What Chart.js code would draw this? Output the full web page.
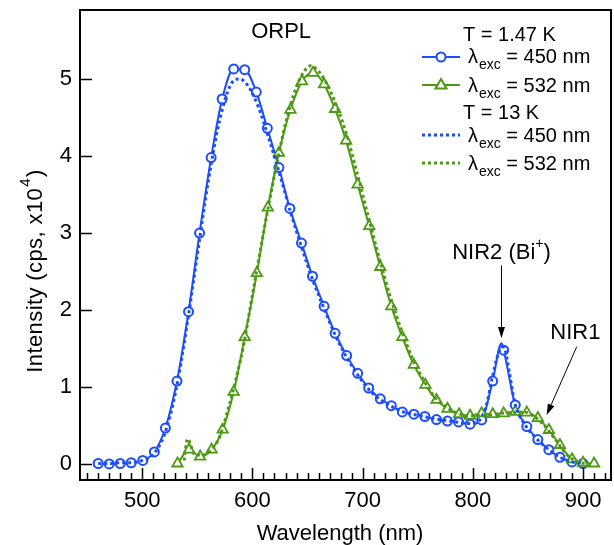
<!DOCTYPE html>
<html lang="en">
<head>
  <meta charset="UTF-8">
  <title>ORPL spectra</title>
  <script src="https://cdn.jsdelivr.net/npm/chart.js"></script>
  <style>
    html, body { margin: 0; padding: 0; background: #fff; }
    .chart-box { width: 614px; height: 545px; }
    canvas { display: block; }
  </style>
</head>
<body>
  <div class="chart-box">
    <canvas id="spectra" width="614" height="545" style="width:614px;height:545px"></canvas>
  </div>

  <script>
    // T = 1.47 K, excitation 450 nm (points carrying a circle marker)
    const blueX = [460, 470, 480, 490, 500.5, 511, 521, 531.5, 542, 552, 562.5, 572.5, 583, 593, 603.5,
                   613.5, 624, 634, 644.5, 654.5, 665, 675, 685.5, 695.5, 705.5, 716, 726, 736, 746.5, 756.5,
                   767, 777, 787, 797.5, 808, 818, 828, 838.5, 849, 859, 869, 879, 890, 900];
    const blueY = [0.01, 0.005, 0.01, 0.02, 0.05, 0.16, 0.47, 1.08, 1.98, 3.0, 3.98, 4.74, 5.13, 5.12, 4.83,
                   4.36, 3.85, 3.32, 2.87, 2.44, 2.05, 1.70, 1.41, 1.18, 0.99, 0.85, 0.76, 0.68, 0.65, 0.62,
                   0.58, 0.56, 0.55, 0.52, 0.575, 1.08, 1.48, 0.77, 0.49, 0.32, 0.19, 0.09, 0.03, 0.01];
    // extra line point without marker (top of the NIR2 peak)
    const blueExtraX = [826];
    const blueExtraY = [1.57];

    // T = 1.47 K, excitation 532 nm (triangle markers)
    const greenX = [532, 542.5, 552.5, 563, 573, 583, 593, 604, 614, 624, 634.5, 645, 655, 665, 675,
                    685, 695.5, 706, 716, 726, 736, 746.5, 757, 767, 777, 787.5, 797.5, 808, 818, 828,
                    838.5, 849, 859, 869, 879, 890, 900, 910];
    const greenY = [0.01, 0.19, 0.10, 0.19, 0.45, 0.94, 1.65, 2.48, 3.33, 4.04, 4.60, 4.97, 5.08, 4.93, 4.61,
                    4.20, 3.63, 3.09, 2.56, 2.05, 1.65, 1.29, 1.03, 0.835, 0.72, 0.65, 0.63, 0.66, 0.65, 0.66,
                    0.68, 0.67, 0.60, 0.445, 0.25, 0.065, 0.02, 0.01];

    // T = 13 K, excitation 450 nm (dotted)
    const blue13X = [460, 470, 480, 490, 500, 510, 520, 530, 540, 550, 560, 570, 580, 588, 595,
                     605, 615, 625, 635, 645, 655, 665, 675, 685, 695, 705, 715, 725, 735, 745,
                     755, 765, 775, 785, 795, 805, 812, 818, 825, 828, 833, 838, 848, 858, 868,
                     878, 888, 900];
    const blue13Y = [0.01, 0.01, 0.02, 0.02, 0.05, 0.13, 0.38, 0.92, 1.75, 2.72, 3.68, 4.45, 4.92, 5.0, 4.93,
                     4.65, 4.22, 3.75, 3.25, 2.80, 2.38, 2.02, 1.68, 1.40, 1.17, 0.98, 0.85, 0.76, 0.69, 0.65,
                     0.62, 0.59, 0.57, 0.55, 0.53, 0.56, 0.75, 1.15, 1.50, 1.52, 1.20, 0.80, 0.50, 0.33, 0.20,
                     0.10, 0.04, 0.01];

    // T = 13 K, excitation 532 nm (dotted)
    const green13X = [538, 541, 548, 555, 562, 570, 578, 585, 592, 600, 610, 620, 630, 640, 648,
                      653, 660, 667, 675, 685, 695, 705, 715, 725, 735, 745, 755, 765, 775, 785,
                      795, 805, 815, 825, 835, 845, 855, 865, 875, 885, 895, 905];
    const green13Y = [0.05, 0.33, 0.12, 0.12, 0.18, 0.35, 0.72, 1.10, 1.55, 2.20, 3.00, 3.75, 4.42, 4.90, 5.12,
                      5.17, 5.10, 4.95, 4.70, 4.30, 3.78, 3.22, 2.68, 2.18, 1.75, 1.38, 1.10, 0.88, 0.75, 0.67,
                      0.63, 0.63, 0.64, 0.66, 0.67, 0.68, 0.63, 0.50, 0.32, 0.13, 0.03, 0.01];

    const xTicks = [500, 600, 700, 800, 900];
    const yTicks = [0, 1, 2, 3, 4, 5];

    const FONT = '"Liberation Sans", Arial, Helvetica, sans-serif';
    const BLUE = '#1b4cff';
    const GREEN = '#4c9a12';

    const toPoints = (xs, ys, marker) => xs.map((v, i) => ({ x: v, y: ys[i], m: marker }));
    const blueLine = toPoints(blueX, blueY, true)
      .concat(toPoints(blueExtraX, blueExtraY, false))
      .sort((a, b) => a.x - b.x);

    // legend text with λ and a subscript "exc"
    function lambdaLabel(ctx, x, y, rest) {
      ctx.font = '20px ' + FONT;
      ctx.fillText('λ', x, y);
      x += ctx.measureText('λ').width + 1;
      ctx.font = '14px ' + FONT;
      ctx.fillText('exc', x, y + 6);
      x += ctx.measureText('exc').width;
      ctx.font = '20px ' + FONT;
      ctx.fillText(' = ' + rest, x, y);
    }

    function arrow(ctx, x1, y1, x2, y2) {
      const ang = Math.atan2(y2 - y1, x2 - x1);
      const L = 11, W = 3.5;
      ctx.beginPath();
      ctx.moveTo(x1, y1);
      ctx.lineTo(x2 - L * Math.cos(ang), y2 - L * Math.sin(ang));
      ctx.stroke();
      ctx.beginPath();
      ctx.moveTo(x2, y2);
      ctx.lineTo(x2 - L * Math.cos(ang) + W * Math.sin(ang), y2 - L * Math.sin(ang) - W * Math.cos(ang));
      ctx.lineTo(x2 - L * Math.cos(ang) - W * Math.sin(ang), y2 - L * Math.sin(ang) + W * Math.cos(ang));
      ctx.closePath();
      ctx.fill();
    }

    const decorations = {
      id: 'decorations',
      afterDatasetsDraw(chart) {
        const { ctx, chartArea: a, scales: { x, y } } = chart;
        ctx.save();
        ctx.setLineDash([]);
        ctx.strokeStyle = '#000';
        ctx.lineWidth = 1.5;
        ctx.beginPath();
        for (let v = 450; v <= 920; v += 10) {
          const px = Math.round(x.getPixelForValue(v)) + 0.5;
          const len = xTicks.includes(v) ? 12 : 7;
          ctx.moveTo(px, a.bottom);
          ctx.lineTo(px, a.bottom - len);
        }
        yTicks.forEach(v => {
          const py = Math.round(y.getPixelForValue(v)) + 0.5;
          ctx.moveTo(a.left, py);
          ctx.lineTo(a.left + 12, py);
        });
        ctx.stroke();

        // full box around the plot
        ctx.lineWidth = 2;
        ctx.strokeRect(a.left, a.top, a.right - a.left, a.bottom - a.top);
        ctx.restore();
      },
      afterDraw(chart) {
        const { ctx, scales: { x, y } } = chart;
        ctx.save();
        ctx.fillStyle = '#000';
        ctx.strokeStyle = '#000';
        ctx.textBaseline = 'alphabetic';

        // axis titles
        ctx.font = '22px ' + FONT;
        ctx.textAlign = 'center';
        ctx.fillText('Wavelength (nm)', 340, 540);

        ctx.textAlign = 'left';
        if ('letterSpacing' in ctx) ctx.letterSpacing = '0.4px';
        const yBase = 'Intensity (cps, x10';
        ctx.font = '22px ' + FONT;
        const w1 = ctx.measureText(yBase).width;
        const wp = ctx.measureText(')').width;
        ctx.font = '15px ' + FONT;
        const w4 = ctx.measureText('4').width;
        const total = w1 + w4 + 2 + wp;
        ctx.translate(42, 271 + total / 2);
        ctx.rotate(-Math.PI / 2);
        ctx.font = '22px ' + FONT;
        ctx.fillText(yBase, 0, 0);
        ctx.font = '15px ' + FONT;
        ctx.fillText('4', w1 + 1, -12);
        ctx.font = '22px ' + FONT;
        ctx.fillText(')', w1 + w4 + 2, 0);
        ctx.setTransform(1, 0, 0, 1, 0, 0);
        if ('letterSpacing' in ctx) ctx.letterSpacing = '0px';

        // ORPL title
        ctx.font = '22px ' + FONT;
        ctx.textAlign = 'center';
        ctx.fillText('ORPL', x.getPixelForValue(626), y.getPixelForValue(5.53));

        // NIR2 (Bi+) label and arrow
        const nx = x.getPixelForValue(826);
        ctx.textAlign = 'left';
        ctx.font = '22px ' + FONT;
        const t1 = 'NIR2 (Bi';
        const wa = ctx.measureText(t1).width;
        const wc = ctx.measureText(')').width;
        ctx.font = '14px ' + FONT;
        const wb = ctx.measureText('+').width;
        const tx = nx - (wa + wb + wc) / 2;
        const ty = y.getPixelForValue(2.66);
        ctx.font = '22px ' + FONT;
        ctx.fillText(t1, tx, ty);
        ctx.font = '14px ' + FONT;
        ctx.fillText('+', tx + wa, ty - 11);
        ctx.font = '22px ' + FONT;
        ctx.fillText(')', tx + wa + wb, ty);
        ctx.lineWidth = 1;
        arrow(ctx, nx, y.getPixelForValue(2.58), nx, y.getPixelForValue(1.64));

        // NIR1 label and arrow
        ctx.textAlign = 'center';
        ctx.fillText('NIR1', x.getPixelForValue(893), y.getPixelForValue(1.625));
        arrow(ctx, x.getPixelForValue(894.3), y.getPixelForValue(1.526),
                   x.getPixelForValue(867), y.getPixelForValue(0.64));

        // legend
        ctx.textAlign = 'left';
        ctx.font = '20px ' + FONT;
        ctx.fillText('T = 1.47 K', 463, 41);
        ctx.fillText('T = 13 K', 463, 119);
        lambdaLabel(ctx, 468, 63, '450 nm');
        lambdaLabel(ctx, 468, 92, '532 nm');
        lambdaLabel(ctx, 468, 142, '450 nm');
        lambdaLabel(ctx, 468, 170, '532 nm');

        // legend samples
        ctx.lineWidth = 2;
        ctx.strokeStyle = BLUE;
        ctx.beginPath(); ctx.moveTo(422, 57); ctx.lineTo(460, 57); ctx.stroke();
        ctx.fillStyle = '#fff';
        ctx.beginPath(); ctx.arc(441, 57, 4.5, 0, Math.PI * 2); ctx.fill(); ctx.stroke();

        ctx.strokeStyle = GREEN;
        ctx.beginPath(); ctx.moveTo(422, 85); ctx.lineTo(460, 85); ctx.stroke();
        ctx.beginPath();
        ctx.moveTo(441, 79); ctx.lineTo(446.5, 88.5); ctx.lineTo(435.5, 88.5); ctx.closePath();
        ctx.fill(); ctx.stroke();

        ctx.lineWidth = 3;
        ctx.setLineDash([3, 3]);
        ctx.strokeStyle = BLUE;
        ctx.beginPath(); ctx.moveTo(422, 135); ctx.lineTo(460, 135); ctx.stroke();
        ctx.strokeStyle = GREEN;
        ctx.beginPath(); ctx.moveTo(422, 163); ctx.lineTo(460, 163); ctx.stroke();
        ctx.restore();
      }
    };

    // drop the half-label padding Chart.js reserves at the axis ends
    const noEndPadding = s => {
      s.paddingTop = 0; s.paddingBottom = 0; s.paddingLeft = 0; s.paddingRight = 0;
    };

    new Chart(document.getElementById('spectra'), {
      type: 'line',
      data: {
        datasets: [
          {
            label: 'T = 1.47 K, 450 nm',
            data: blueLine,
            borderColor: BLUE,
            borderWidth: 2,
            cubicInterpolationMode: 'monotone',
            pointStyle: 'circle',
            pointRadius: c => (c.raw && c.raw.m ? 4.5 : 0),
            pointBackgroundColor: '#fff',
            pointBorderColor: BLUE,
            pointBorderWidth: 2,
            order: 4
          },
          {
            label: 'T = 1.47 K, 532 nm',
            data: toPoints(greenX, greenY, true),
            borderColor: GREEN,
            borderWidth: 2,
            cubicInterpolationMode: 'monotone',
            pointStyle: 'triangle',
            pointRadius: 6,
            pointBackgroundColor: '#fff',
            pointBorderColor: GREEN,
            pointBorderWidth: 1.8,
            order: 3
          },
          {
            label: 'T = 13 K, 450 nm',
            data: toPoints(blue13X, blue13Y, false),
            borderColor: BLUE,
            borderWidth: 3,
            borderDash: [3, 3],
            cubicInterpolationMode: 'monotone',
            pointRadius: 0,
            order: 2
          },
          {
            label: 'T = 13 K, 532 nm',
            data: toPoints(green13X, green13Y, false),
            borderColor: GREEN,
            borderWidth: 3,
            borderDash: [3, 3],
            cubicInterpolationMode: 'monotone',
            pointRadius: 0,
            order: 1
          }
        ]
      },
      options: {
        responsive: false,
        animation: false,
        layout: { autoPadding: false, padding: { top: 10, right: 3, left: 0, bottom: 0 } },
        plugins: {
          legend: { display: false },
          tooltip: { enabled: false }
        },
        scales: {
          x: {
            type: 'linear',
            min: 443.5,
            max: 925.4,
            grid: { display: false, drawTicks: false },
            border: { display: false },
            afterBuildTicks: s => { s.ticks = xTicks.map(v => ({ value: v })); },
            afterFit: s => { s.height = 65; noEndPadding(s); },
            ticks: { font: { family: FONT, size: 22 }, color: '#000', padding: 8, maxRotation: 0 }
          },
          y: {
            type: 'linear',
            min: -0.204,
            max: 5.895,
            grid: { display: false, drawTicks: false },
            border: { display: false },
            afterBuildTicks: s => { s.ticks = yTicks.map(v => ({ value: v })); },
            afterFit: s => { s.width = 80; noEndPadding(s); },
            ticks: { font: { family: FONT, size: 22 }, color: '#000', padding: 8 }
          }
        }
      },
      plugins: [decorations]
    });
  </script>
</body>
</html>
